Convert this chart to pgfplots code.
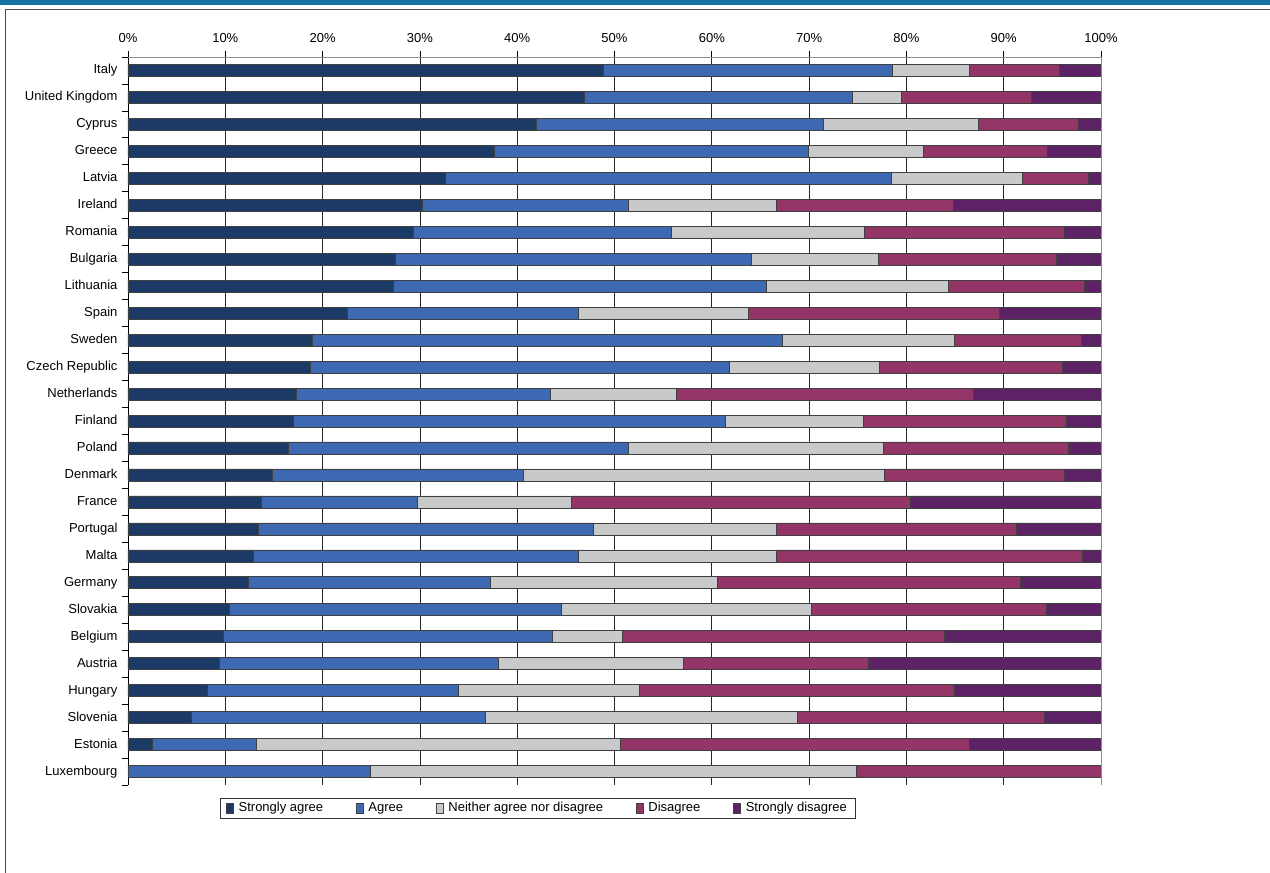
\documentclass[border=0pt]{standalone}
\usepackage{pgfplots}
\pgfplotsset{compat=1.18}
\usepackage{pgfplotstable}
\usepackage{fontspec}
\setmainfont{Liberation Sans}

\definecolor{cSA}{HTML}{1B3A66}
\definecolor{cA}{HTML}{3D68B2}
\definecolor{cN}{HTML}{C8C9CB}
\definecolor{cD}{HTML}{933567}
\definecolor{cSD}{HTML}{5D2265}
\definecolor{band}{HTML}{1472A0}

% shares in %, top row first (Italy) down to Luxembourg
\pgfplotstableread{
pos SA A N D SD
0 48.8 29.7 8.0 9.2 4.3
1 46.9 27.5 5.1 13.3 7.2
2 42.0 29.5 15.9 10.3 2.3
3 37.6 32.3 11.8 12.8 5.5
4 32.6 45.8 13.5 6.8 1.3
5 30.2 21.2 15.2 18.2 15.2
6 29.3 26.5 19.9 20.5 3.8
7 27.5 36.6 13.0 18.3 4.6
8 27.3 38.3 18.7 14.0 1.7
9 22.5 23.8 17.4 25.8 10.5
10 18.9 48.3 17.7 13.1 2.0
11 18.7 43.1 15.4 18.8 4.0
12 17.3 26.1 13.0 30.5 13.1
13 17.0 44.4 14.2 20.8 3.6
14 16.5 34.9 26.2 19.0 3.4
15 14.8 25.8 37.1 18.5 3.8
16 13.7 16.0 15.9 34.8 19.6
17 13.4 34.4 18.8 24.7 8.7
18 12.9 33.4 20.3 31.5 1.9
19 12.4 24.8 23.4 31.1 8.3
20 10.4 34.1 25.7 24.2 5.6
21 9.8 33.8 7.2 33.1 16.1
22 9.4 28.7 19.0 19.0 23.9
23 8.1 25.8 18.6 32.4 15.1
24 6.5 30.2 32.1 25.4 5.8
25 2.5 10.7 37.4 35.9 13.5
26 0.0 24.9 50.0 25.1 0.0
}\data

\begin{document}
\fontsize{13}{15}\selectfont
\begin{tikzpicture}[x=1pt,y=1pt]
\path[use as bounding box] (0,0) rectangle (1270,873);
\fill[band] (0,868) rectangle (1270,873);
\draw[black!70, line width=1pt] (5,0) -- (5,863) -- (1270,863);

\begin{axis}[
    at={(128pt,816pt)}, anchor=north west,
    scale only axis, width=973pt, height=728pt,
    xbar stacked, bar width=12pt,
    xmin=0, xmax=100, ymin=-0.5, ymax=26.5, y dir=reverse,
    axis x line*=top, axis y line*=left,
    axis line style={black, line width=0.8pt},
    xtick={0,10,...,100},
    xticklabels={0\%,10\%,20\%,30\%,40\%,50\%,60\%,70\%,80\%,90\%,100\%},
    ytick={0,...,26},
    yticklabels={Italy,United Kingdom,Cyprus,Greece,Latvia,Ireland,Romania,Bulgaria,Lithuania,Spain,Sweden,Czech Republic,Netherlands,Finland,Poland,Denmark,France,Portugal,Malta,Germany,Slovakia,Belgium,Austria,Hungary,Slovenia,Estonia,Luxembourg},
    minor ytick={-0.5,0.5,...,26.5},
    major y tick style={draw=none},
    tick style={black, line width=0.8pt},
    tick align=outside, major tick length=6pt, minor tick length=6pt,
    xmajorgrids, grid style={black!85, line width=0.8pt},
    /pgf/number format/assume math mode=true,
    tick label style={font=\fontsize{13}{15}\selectfont, text height=9.5pt, text depth=2.5pt},
    x tick label style={yshift=1pt},
    legend columns=5,
    legend style={at={(0.421,-0.032)}, anchor=center, draw=black!80, line width=0.8pt,
        font=\fontsize{13}{15}\selectfont, inner xsep=6pt, inner ysep=2pt,
        nodes={text height=9.5pt, text depth=2.5pt},
        /tikz/every even column/.append style={column sep=31pt}},
    legend image code/.code={\draw[#1, line width=0.6pt] (0pt,-5pt) rectangle (7pt,5pt);
        \path[draw=none, fill=none] (0pt,0pt) -- (10pt,0pt);},
    after end axis/.code={\draw[black!45, line width=0.8pt] (rel axis cs:0,1) -- (rel axis cs:1,1) -- (rel axis cs:1,0);},
]
\addplot[fill=cSA, draw=black!75, line width=0.6pt] table[x=SA, y=pos] {\data};
\addplot[fill=cA, draw=black!75, line width=0.6pt] table[x=A, y=pos] {\data};
\addplot[fill=cN, draw=black!75, line width=0.6pt] table[x=N, y=pos] {\data};
\addplot[fill=cD, draw=black!75, line width=0.6pt] table[x=D, y=pos] {\data};
\addplot[fill=cSD, draw=black!75, line width=0.6pt] table[x=SD, y=pos] {\data};
\legend{Strongly agree, Agree, Neither agree nor disagree, Disagree, Strongly disagree}
\end{axis}
\end{tikzpicture}
\end{document}
